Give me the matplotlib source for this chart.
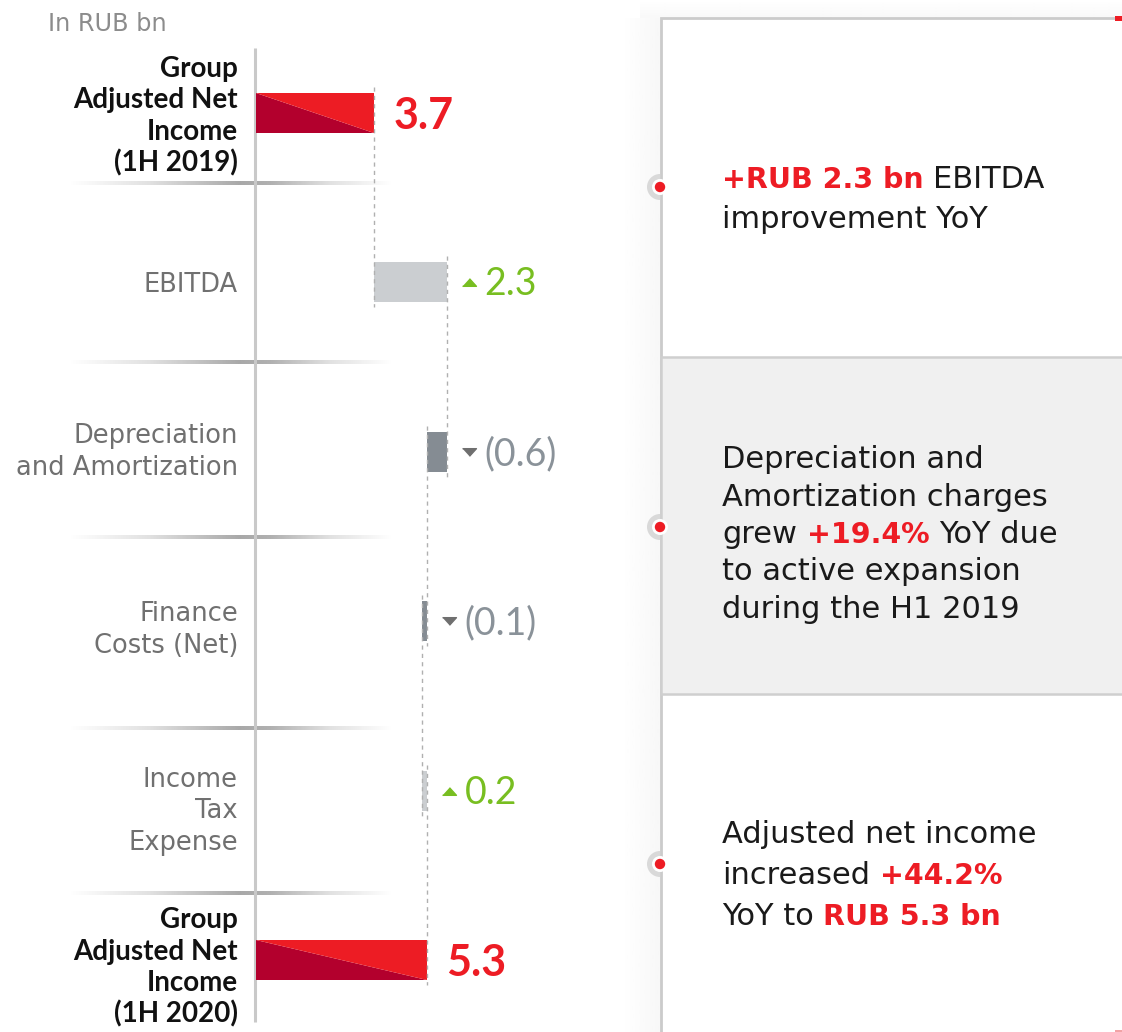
import matplotlib
matplotlib.use("Agg")
import matplotlib.pyplot as plt
import matplotlib.colors as mcolors
import matplotlib.transforms as mtransforms
from matplotlib.patches import Polygon, Rectangle, Circle, Wedge
import numpy as np

plt.rcParams['font.family'] = ['DejaVu Sans']

# ---------------- data ----------------
unit_label = "In RUB bn"
category_labels = [
    ["Group", "Adjusted Net", "Income", "(1H 2019)"],
    ["EBITDA"],
    ["Depreciation", "and Amortization"],
    ["Finance", "Costs (Net)"],
    ["Income", "Tax", "Expense"],
    ["Group", "Adjusted Net", "Income", "(1H 2020)"],
]
total_rows = [0, 5]
opening_value = 3.68                      # 1H 2019 adjusted net income
changes = [2.28, -0.63, -0.145, 0.155]    # EBITDA, D&A, finance costs, income tax

panel_lines = [
    # (baseline, [(text, style)])
    (188, [("+RUB 2.3 bn", "hi"), (" ", "txt"), ("EBITDA", "txt")]),
    (228, [("improvement YoY", "txt")]),
    (468, [("Depreciation and", "txt")]),
    (505.5, [("Amortization charges", "txt")]),
    (543, [("grew", "txt"), (" ", "txt"), ("+19.4%", "hi"), (" ", "txt"), ("YoY due", "txt")]),
    (580.5, [("to active expansion", "txt")]),
    (618, [("during the H1 2019", "txt")]),
    (843, [("Adjusted net income", "txt")]),
    (884, [("increased", "txt"), (" ", "txt"), ("+44.2%", "hi")]),
    (925, [("YoY to", "txt"), (" ", "txt"), ("RUB 5.3 bn", "hi")]),
]

# ---------------- style ----------------
RED = "#ED1C24"
DARK_RED = "#B3002D"
UP_GRAY = "#CBCED1"
DOWN_GRAY = "#858C93"
GREEN = "#78BE21"
VAL_GRAY = "#8A9299"
LABEL_GRAY = "#707070"
BLACK = "#1A1A1A"
NUM_FONT = ["Lato", "DejaVu Sans"]

W, H = 1122, 1032
AXIS_X = 256          # pixel position of value 0
PX_PER_UNIT = 32.1
ROW0 = 113            # pixel centre of first row
ROW_STEP = 169.4
BAR_PX = 40

fig = plt.figure(figsize=(W / 100, H / 100), dpi=100)
fig.patch.set_facecolor("white")

# pixel-space overlay for decorations
pax = fig.add_axes([0, 0, 1, 1], zorder=0)
pax.set_xlim(0, W)
pax.set_ylim(H, 0)
pax.axis("off")

# data axes for the waterfall
ax = fig.add_axes([0, 0, 1, 1], zorder=1)
ax.set_xlim(-AXIS_X / PX_PER_UNIT, (W - AXIS_X) / PX_PER_UNIT)
ax.set_ylim((H - ROW0) / ROW_STEP, -ROW0 / ROW_STEP)
ax.axis("off")
ax.patch.set_alpha(0)


def px_to_pt(p):
    return p * 72.0 / 100.0


def gradient(x0, x1, y0, y1, alphas, color, horizontal=True, z=0):
    a = np.asarray(alphas, dtype=float)
    rgb = mcolors.to_rgb(color)
    if horizontal:
        img = np.zeros((1, a.size, 4))
        img[0, :, :3] = rgb
        img[0, :, 3] = a
    else:
        img = np.zeros((a.size, 1, 4))
        img[:, 0, :3] = rgb
        img[:, 0, 3] = a
    pax.imshow(img, extent=(x0, x1, y1, y0), aspect="auto",
               interpolation="bilinear", zorder=z)


# ---------------- right-hand commentary panel ----------------
gradient(622, 661, 18, H, np.linspace(0, 0.06, 60), "#808080", True, 0)
gradient(640, W, 0, 18, np.linspace(0, 0.05, 30), "#808080", False, 0)
pax.add_patch(Rectangle((661, 18), W - 661 + 20, H, facecolor="white",
                        edgecolor="#CBCBCB", lw=2.0, zorder=1))
pax.add_patch(Rectangle((661, 357), W - 661 + 20, 337, facecolor="#F0F0F0",
                        edgecolor="#CFCFCF", lw=1.8, zorder=1))
pax.add_patch(Rectangle((1115, 16), 7, 5, facecolor=RED, edgecolor="none", zorder=2))
pax.add_patch(Rectangle((1115, 1030), 7, 2, facecolor="#F2A3A6", edgecolor="none", zorder=2))

for cy in (187, 527, 864):
    pax.add_patch(Wedge((660, cy), 13, 90, 270, facecolor="#D9D9D9",
                        edgecolor="none", zorder=3))
    pax.add_patch(Circle((660, cy), 8, facecolor="white", edgecolor="none", zorder=3))
    pax.add_patch(Circle((660, cy), 5.2, facecolor=RED, edgecolor="none", zorder=4))

renderer = fig.canvas.get_renderer()
styles = {
    "txt": dict(fontsize=22, color=BLACK, fontweight="normal"),
    "hi": dict(fontsize=20.5, color=RED, fontweight="bold"),
}


def text_width(s, **kw):
    t = pax.text(0, 0, s, **kw)
    w = t.get_window_extent(renderer).width
    t.remove()
    return w


space_w = text_width("a a", **styles["txt"]) - text_width("aa", **styles["txt"])

for baseline, parts in panel_lines:
    x = 722
    for s, st in parts:
        if s == " ":
            x += space_w
            continue
        t = pax.text(x, baseline, s, va="baseline", ha="left", zorder=5, **styles[st])
        x += t.get_window_extent(renderer).width

# ---------------- left-hand chart decorations ----------------
pax.text(48, 31, unit_label, fontsize=17.3, color="#8C8C8C", va="baseline", ha="left")

sep_x = np.linspace(70, 392, 300)
sep_alpha = np.interp(sep_x, [70, 150, 240, 272, 330, 392], [0, 0.35, 1.0, 0.9, 0.35, 0])
for sy in (183, 362, 537, 728, 893):
    gradient(70, 392, sy - 2, sy + 2, sep_alpha, "#A8A8A8", True, 1)

pax.plot([AXIS_X - 1, AXIS_X - 1], [48, 1022], color="#C9C9C9", lw=2.2,
         solid_capstyle="butt", zorder=2)

label_centres = [114, 282, 449.5, 627.5, 809, 965.5]
for i, lines in enumerate(category_labels):
    n = len(lines)
    bold = i in total_rows
    for k, line in enumerate(lines):
        base = label_centres[i] + (k - (n - 1) / 2) * 31.5 + (10 if bold else 9.5)
        if bold:
            pax.text(238, base, line, fontsize=20, fontweight="bold", color="#111111",
                     family=NUM_FONT, ha="right", va="baseline", zorder=3)
        else:
            pax.text(238, base, line, fontsize=18.5, color=LABEL_GRAY,
                     ha="right", va="baseline", zorder=3)

# ---------------- waterfall ----------------
n_rows = len(category_labels)
rows = np.arange(n_rows)
bar_h = BAR_PX / ROW_STEP
levels = np.concatenate([[opening_value], opening_value + np.cumsum(changes)])
closing_value = levels[-1]


def split_bar(row, value):
    top, bot = row - bar_h / 2, row + bar_h / 2
    ax.add_patch(Polygon([(0, top), (0, bot), (value, bot)], closed=True,
                         facecolor=DARK_RED, edgecolor="none", zorder=3))
    ax.add_patch(Polygon([(0, top), (value, top), (value, bot)], closed=True,
                         facecolor=RED, edgecolor="none", zorder=3))
    ax.annotate(f"{value:.1f}", xy=(value, row),
                xytext=(px_to_pt(19), -px_to_pt(16)), textcoords="offset points",
                fontsize=31, fontweight="bold", color=RED, family=NUM_FONT,
                ha="left", va="baseline", zorder=5)


split_bar(rows[0], opening_value)
split_bar(rows[-1], closing_value)

up_tri = [(-1, -0.55), (1, -0.55), (0, 0.55)]
down_tri = [(-1, 0.55), (1, 0.55), (0, -0.55)]
for j, ch in enumerate(changes):
    row = rows[j + 1]
    start, end = levels[j], levels[j + 1]
    up = ch > 0
    ax.barh(row, ch, left=start, height=bar_h, color=UP_GRAY if up else DOWN_GRAY,
            edgecolor="none", zorder=3)
    right = max(start, end)
    tri_tr = mtransforms.offset_copy(ax.transData, fig=fig, x=22, y=0, units="dots")
    ax.plot([right], [row], marker=up_tri if up else down_tri, markersize=10,
            color=GREEN if up else "#6F6F6F", linestyle="none",
            transform=tri_tr, zorder=5)
    label = f"{ch:.1f}" if up else f"({abs(ch):.1f})"
    ax.annotate(label, xy=(right, row), xytext=(px_to_pt(37), -px_to_pt(13)),
                textcoords="offset points", fontsize=27, fontweight="normal",
                color=GREEN if up else VAL_GRAY, family=NUM_FONT,
                ha="left", va="baseline", zorder=5)

# dashed connectors between consecutive bars
for i in range(n_rows - 1):
    x = levels[i]
    y0 = rows[i] - bar_h / 2 - 6 / ROW_STEP
    y1 = rows[i + 1] + bar_h / 2 + 5 / ROW_STEP
    ax.plot([x, x], [y0, y1], color="#B0B0B0", lw=1.0,
            linestyle=(0, (3, 3)), zorder=4)

fig.savefig("out.png", dpi=100, facecolor="white")
